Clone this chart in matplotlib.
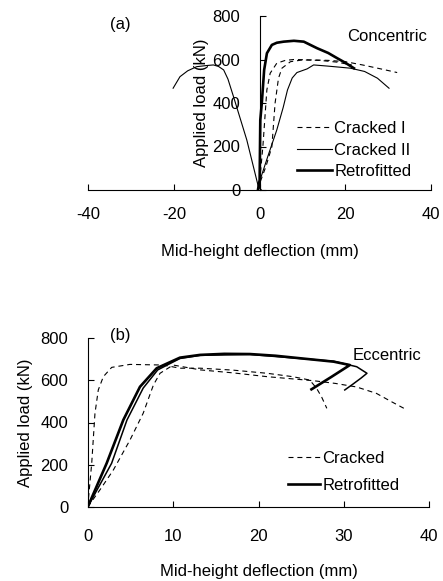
import numpy as np
import matplotlib
matplotlib.use('Agg')
import matplotlib.pyplot as plt

plt.rcParams['font.family'] = ['Liberation Sans', 'DejaVu Sans']
plt.rcParams['font.size'] = 12
plt.rcParams['axes.unicode_minus'] = False

# (a) concentric
retro_a_x = [-0.4, 0.0, 0.15, 0.5, 1.05, 1.7, 2.85, 4.0, 5.6, 8.0, 10.3, 13.4, 16.0, 18.1, 20.0, 22.0]
retro_a_y = [0, 46, 322, 399, 552, 629, 667, 677, 682, 686, 682, 652, 630, 606, 585, 560]

crack1_x = [-0.3, 0.0, 0.75, 1.68, 2.46, 4.0, 6.0, 8.0, 12.0, 16.0, 20.0, 24.0, 28.0, 32.1]
crack1_y = [0, 40, 199, 460, 537, 583, 596, 600, 598, 596, 590, 575, 558, 540]

crack1b_x = [-0.3, 0.0, 1.5, 2.85, 3.6, 4.4, 5.2, 7.2, 10.0, 14.0, 18.0, 21.5]
crack1b_y = [0, 30, 110, 199, 399, 514, 560, 590, 598, 596, 588, 575]

crack2_x = [-0.3, 0.1, 2.0, 4.0, 5.5, 6.5, 7.6, 8.7, 11.1, 12.6, 15.7, 18.5, 21.2, 24.5, 27.5, 30.2]
crack2_y = [0, 46, 160, 276, 380, 460, 515, 540, 557, 575, 570, 565, 560, 545, 514, 468]

# first loading in the other direction
crack2_neg_x = [0.4, -0.3, -3.0, -6.1, -7.4, -8.4, -9.6, -10.8, -12.5, -14.7, -16.8, -18.6, -20.2]
crack2_neg_y = [0, 15, 230, 429, 510, 552, 568, 575, 572, 567, 548, 521, 468]

# (b) eccentric
ecc_c1_x = [0.0, 0.47, 0.85, 1.24, 1.83, 2.81, 4.95, 8.85, 10.8, 13.2, 17.0, 21.0, 24.0, 26.0, 26.8, 27.4, 28.0]
ecc_c1_y = [0, 207, 443, 554, 617, 661, 675, 672, 657, 657, 648, 633, 617, 601, 562, 520, 467]

ecc_c2_x = [0.0, 1.5, 3.0, 4.95, 6.5, 7.7, 8.47, 10.0, 13.2, 17.0, 21.0, 26.4, 29.0, 31.5, 33.8, 35.5, 37.4]
ecc_c2_y = [0, 85, 175, 317, 444, 578, 633, 672, 649, 635, 617, 598, 585, 568, 538, 500, 459]

ecc_r1_x = [0.0, 2.22, 4.17, 6.12, 8.08, 10.8, 13.15, 16.0, 19.0, 22.0, 24.9, 28.8, 30.7, 28.5, 26.2]
ecc_r1_y = [0, 207, 412, 569, 657, 707, 720, 725, 724, 716, 704, 688, 672, 615, 557]

ecc_r2_x = [0.0, 2.8, 4.6, 6.5, 8.2, 10.8, 13.2, 19.0, 24.9, 28.8, 31.5, 32.7, 32.0, 31.0, 30.1]
ecc_r2_y = [0, 207, 412, 563, 649, 703, 718, 722, 703, 690, 664, 633, 610, 580, 554]

yticks = [0, 200, 400, 600, 800]

fig = plt.figure(figsize=(4.43, 5.81), dpi=100)
W, H = 443.0, 581.0

thin = 0.8
thick = 1.9
dash = (0, (4.5, 3.5))

# ---- top panel
ax1 = fig.add_axes([88.3 / W, 1 - 190 / H, (431 - 88.3) / W, (190 - 16) / H])
ax1.plot(crack1_x, crack1_y, color='black', lw=thin, ls=dash, label='Cracked I')
ax1.plot(crack1b_x, crack1b_y, color='black', lw=thin, ls=dash)
ax1.plot(crack2_x, crack2_y, color='black', lw=thin, label='Cracked II')
ax1.plot(crack2_neg_x, crack2_neg_y, color='black', lw=thin)
ax1.plot(retro_a_x, retro_a_y, color='black', lw=thick, label='Retrofitted')
ax1.set_xlim(-40, 40)
ax1.set_ylim(0, 800)
ax1.set_xticks([-40, -20, 0, 20, 40])
ax1.set_yticks(yticks)
ax1.spines['left'].set_position(('data', 0))
ax1.spines['top'].set_visible(False)
ax1.spines['right'].set_visible(False)
ax1.tick_params(axis='both', direction='in', length=4, width=0.8, labelsize=12)
ax1.tick_params(axis='x', pad=12.5)
ax1.tick_params(axis='y', pad=14)
ax1.set_xlabel('Mid-height deflection (mm)', fontsize=12)
ax1.xaxis.set_label_coords(0.5, -0.31)
ax1.set_ylabel('Applied load (kN)', fontsize=12)
ax1.yaxis.set_label_coords(0.352, 0.5)
leg1 = ax1.legend(loc='center left', bbox_to_anchor=(297 / W, 1 - 150 / H),
                  bbox_transform=fig.transFigure, frameon=False, fontsize=12,
                  handlelength=2.1, handletextpad=0.15, labelspacing=0.4,
                  borderpad=0, borderaxespad=0)
fig.text(120 / W, 1 - 25 / H, '(a)', ha='center', va='center', fontsize=12)
fig.text(347 / W, 1 - 36.5 / H, 'Concentric', ha='left', va='center', fontsize=12)

# ---- bottom panel
ax2 = fig.add_axes([87.7 / W, 1 - 507 / H, (429.3 - 87.7) / W, (507 - 338) / H])
ax2.plot(ecc_c1_x, ecc_c1_y, color='black', lw=thin, ls=dash, label='Cracked')
ax2.plot(ecc_c2_x, ecc_c2_y, color='black', lw=thin, ls=dash)
ax2.plot(ecc_r2_x, ecc_r2_y, color='black', lw=1.1)
ax2.plot(ecc_r1_x, ecc_r1_y, color='black', lw=thick, label='Retrofitted')
ax2.set_xlim(0, 40)
ax2.set_ylim(0, 800)
ax2.set_xticks([0, 10, 20, 30, 40])
ax2.set_yticks(yticks)
ax2.spines['top'].set_visible(False)
ax2.spines['right'].set_visible(False)
ax2.tick_params(axis='both', direction='in', length=4, width=0.8, labelsize=12)
ax2.tick_params(axis='x', pad=16)
ax2.tick_params(axis='y', pad=14)
ax2.set_xlabel('Mid-height deflection (mm)', fontsize=12)
ax2.xaxis.set_label_coords(0.5, -0.335)
ax2.set_ylabel('Applied load (kN)', fontsize=12)
ax2.yaxis.set_label_coords(-0.160, 0.5)
leg2 = ax2.legend(loc='center left', bbox_to_anchor=(288 / W, 1 - 472 / H),
                  bbox_transform=fig.transFigure, frameon=False, fontsize=12,
                  handlelength=1.9, handletextpad=0.15, labelspacing=0.7,
                  borderpad=0, borderaxespad=0)
fig.text(120 / W, 1 - 335.5 / H, '(b)', ha='center', va='center', fontsize=12)
fig.text(353 / W, 1 - 356 / H, 'Eccentric', ha='left', va='center', fontsize=12)

fig.savefig('out.png', dpi=100)
